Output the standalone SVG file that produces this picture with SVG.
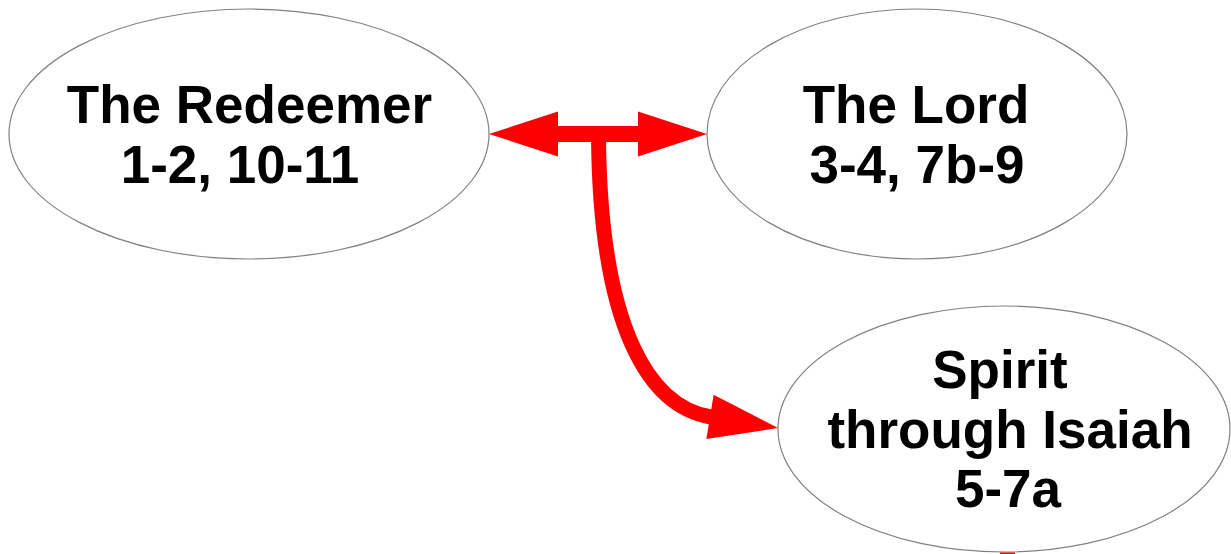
<svg xmlns="http://www.w3.org/2000/svg" width="1231" height="554" viewBox="0 0 1231 554">
  <style>
    .node { fill: #ffffff; stroke: #808080; stroke-width: 1.2; }
    .lbl { font-family: "Liberation Sans", Arial, sans-serif; font-weight: bold; font-size: 53px; fill: #000000; text-anchor: middle; }
    .conn { fill: none; stroke: #ff0000; stroke-width: 16; }
  </style>
  <defs>
    <marker id="head" markerUnits="userSpaceOnUse" markerWidth="70" markerHeight="46" viewBox="0 0 70 46" refX="1" refY="22.5" orient="auto-start-reverse" overflow="visible">
      <path d="M0,0 L69,22.5 L0,45 Z" fill="#ff0000"/>
    </marker>
  </defs>
  <rect width="1231" height="554" fill="#ffffff"/>

  <g id="node-redeemer">
    <ellipse class="node" cx="249" cy="134" rx="240" ry="125"/>
    <text class="lbl" x="249.5" y="123">The Redeemer</text>
    <text class="lbl" x="240" y="183">1-2, 10-11</text>
  </g>

  <g id="node-lord">
    <ellipse class="node" cx="917" cy="134" rx="210" ry="125"/>
    <text class="lbl" x="916" y="123">The Lord</text>
    <text class="lbl" x="917" y="183">3-4, 7b-9</text>
  </g>

  <g id="node-spirit">
    <ellipse class="node" cx="1004" cy="429" rx="226" ry="123"/>
    <text class="lbl" x="1000" y="388">Spirit</text>
    <text class="lbl" x="1010" y="448">through Isaiah</text>
    <text class="lbl" x="1008" y="507">5-7a</text>
  </g>

  <g id="connectors">
    <path class="conn" d="M557,134 L639,134" marker-start="url(#head)" marker-end="url(#head)"/>
    <path class="conn" style="stroke-width:15" d="M598.5,136 C600,330 650,407 711,417" marker-end="url(#head)"/>
    <rect x="1000" y="552.5" width="15" height="1.5" fill="#ff0000"/>
  </g>
</svg>
